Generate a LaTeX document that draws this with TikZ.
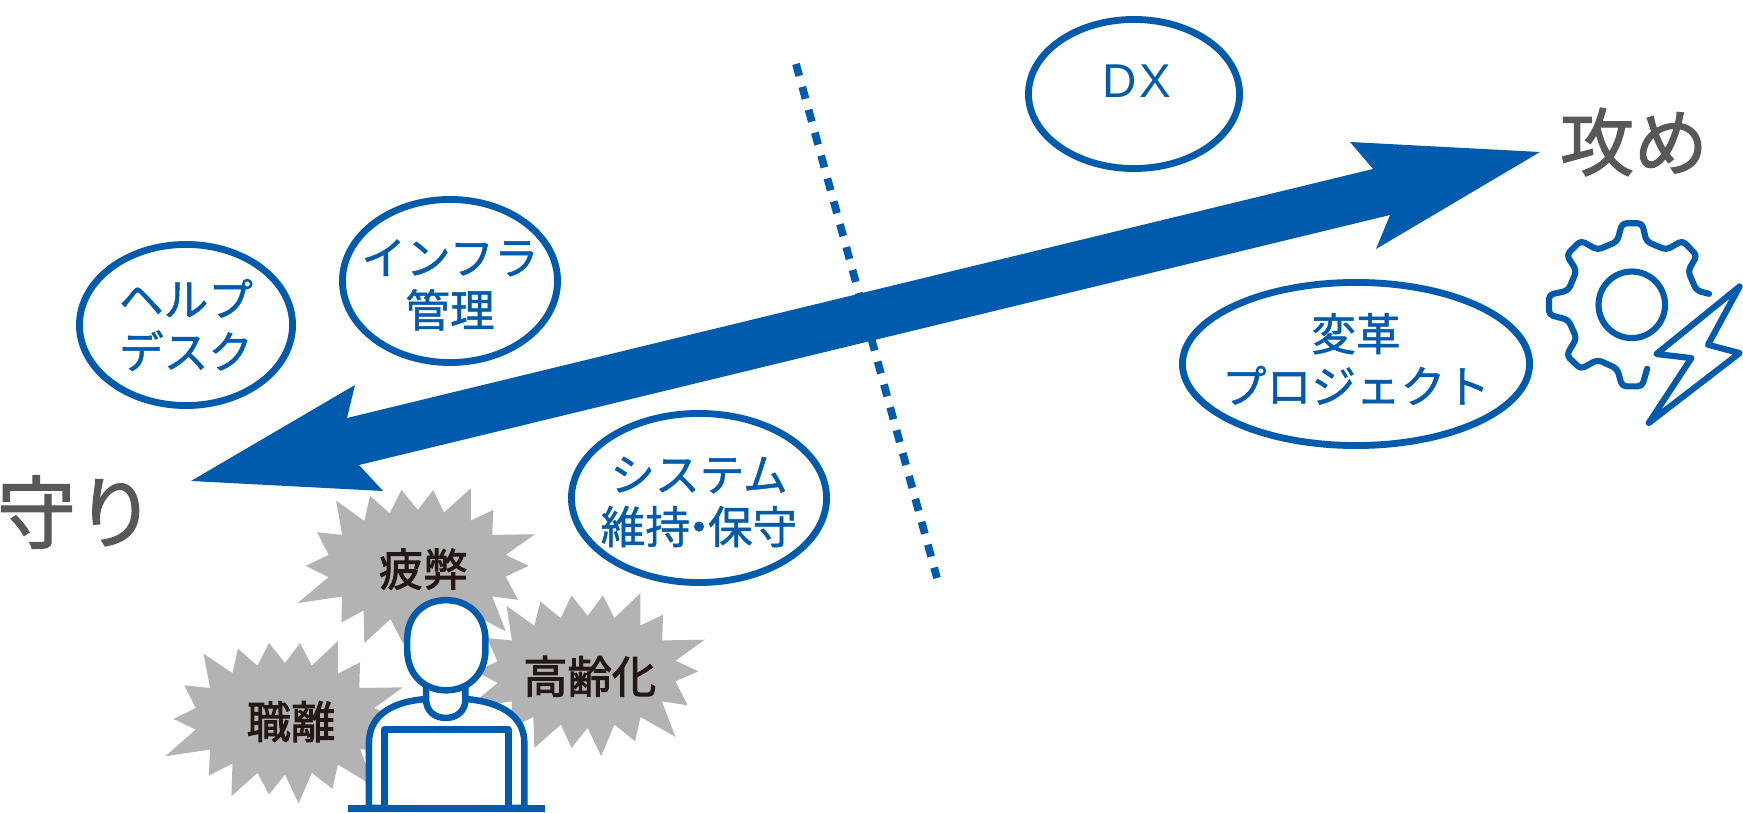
\documentclass[tikz,border=0pt]{standalone}
\usepackage{fontspec}
\setmainfont{Noto Sans CJK JP}
\newfontfamily\medfont[FakeBold=1.1]{Noto Sans CJK JP}
\newfontfamily\sidefont[FakeBold=1.6]{Noto Sans CJK JP}
\newfontfamily\burstfont[FakeBold=2.2]{Noto Sans CJK JP}
\newfontfamily\latinfont{Liberation Sans}
\usetikzlibrary{shapes.geometric}
\definecolor{kamoblue}{RGB}{0, 91, 172}
\definecolor{kamogray}{RGB}{89, 87, 87}
\definecolor{burstgray}{RGB}{179, 179, 179}
\definecolor{burstink}{RGB}{35, 24, 21}

\begin{document}
\begin{tikzpicture}[
    x=0.01cm, y=-0.01cm,
    oval/.style={ellipse, draw=kamoblue, line width=1.95pt, fill=white, inner sep=0pt},
    ovaltext/.style={inner sep=0pt, align=center, text=kamoblue, font=\medfont\fontsize{12.7}{14.9}\selectfont},
    side/.style={text=kamogray, inner sep=0pt, font=\sidefont\fontsize{21}{24}\selectfont},
    burst/.style={fill=burstgray},
    burstlabel/.style={text=burstink, inner sep=0pt, font=\burstfont\fontsize{12.6}{15}\selectfont},
    outline/.style={draw=kamoblue, line width=1.85pt, fill=white, line join=round},
    thinline/.style={draw=kamoblue, line width=1.75pt, line cap=round, line join=round}
]
    \useasboundingbox (0,0) rectangle (1743,813);

    % Boundary
    \coordinate (dotstart) at (796,64);
    \coordinate (dotend) at (937,578);
    \draw[kamoblue, line width=2.2pt, dash pattern=on 3.5pt off 3.25pt] (dotstart) -- (dotend);

    % Main arrow
    \fill[kamoblue] (1540,152) -- (1350,142) -- (1373,169) -- (347,418) -- (355,385) -- (191,481) -- (383,491) -- (359,465) -- (1390,215) -- (1376,249) -- cycle;

    % Tasks
    \node[oval, minimum width=211*0.2845pt, minimum height=149*0.2845pt] (dx) at (1134,94) {};
    \node[oval, minimum width=347*0.2845pt, minimum height=163*0.2845pt] (kaikaku) at (1356,364) {};
    \node[oval, minimum width=215*0.2845pt, minimum height=163*0.2845pt] (infra) at (450,281) {};
    \node[oval, minimum width=213*0.2845pt, minimum height=161*0.2845pt] (help) at (186,325) {};
    \node[oval, minimum width=255*0.2845pt, minimum height=169*0.2845pt] (hoshu) at (699,498) {};
    \node[inner sep=0pt, text=kamoblue, font=\latinfont\fontsize{13.5}{16}\selectfont] (dxtext) at (1137,81) {\addfontfeature{LetterSpace=6}DX};
    \node[ovaltext] (kaikakutext) at (1356,359) {変革\\プロジェクト};
    \node[ovaltext] (infratext) at (450,285) {インフラ\\管理};
    \node[ovaltext] (helptext) at (186,325) {ヘルプ\\デスク};
    \node[ovaltext] (hoshutext) at (699,502) {システム\\維持{\kern-0.3em・\kern-0.3em}保守};

    % Ends
    \node[side] (seme) at (1634,142) {攻め};
    \node[side, font=\sidefont\fontsize{22.5}{24}\selectfont] (mamori) at (76,512) {守り};

    % Bursts
    \begin{scope}[shift={(160,480)}, x=0.003571cm, y=-0.003333cm]
        \fill[burst] (493,62) -- (572,123) -- (588,48) -- (643,100) -- (676,30) -- (722,90) -- (765,30) -- (795,98) -- (870,25) -- (870,122) -- (933,90) -- (930,165) -- (1050,163) -- (968,225) -- (1032,258) -- (968,290) -- (1002,360) -- (930,350) -- (968,455) -- (870,400) -- (820,490) -- (740,420) -- (680,490) -- (645,418) -- (572,490) -- (570,392) -- (508,428) -- (510,350) -- (385,370) -- (472,292) -- (408,258) -- (472,225) -- (440,157) -- (510,165) -- cycle;
        \fill[burst] (970,378) -- (1048,438) -- (1065,365) -- (1122,415) -- (1152,347) -- (1197,408) -- (1240,347) -- (1272,415) -- (1345,340) -- (1345,437) -- (1408,405) -- (1406,482) -- (1525,480) -- (1443,543) -- (1507,575) -- (1443,605) -- (1477,677) -- (1405,665) -- (1443,772) -- (1345,712) -- (1330,785) -- (1272,735) -- (1235,830) -- (1197,745) -- (1152,805) -- (1122,735) -- (1048,805) -- (1045,712) -- (985,745) -- (985,665) -- (860,685) -- (945,610) -- (885,575) -- (945,545) -- (915,475) -- (985,482) -- cycle;
        \fill[burst] (122,522) -- (203,580) -- (218,507) -- (273,558) -- (305,490) -- (350,550) -- (392,490) -- (425,558) -- (498,484) -- (498,582) -- (560,548) -- (558,625) -- (680,623) -- (600,685) -- (665,718) -- (600,750) -- (635,820) -- (560,808) -- (598,920) -- (498,855) -- (483,928) -- (425,880) -- (388,972) -- (350,885) -- (305,945) -- (273,880) -- (200,950) -- (203,852) -- (137,888) -- (140,810) -- (15,830) -- (100,750) -- (38,718) -- (100,685) -- (68,617) -- (140,625) -- cycle;
        \node[burstlabel] (hihei) at (737,268) {疲弊};
        \node[burstlabel] (koreika) at (1203,590) {高齢化};
        \node[burstlabel] (shokuri) at (367,726) {職離};

        % Person
        \draw[outline] (585,985) -- (585,790) .. controls (585,700) and (660,665) .. (745,658) -- (855,658) .. controls (940,665) and (1020,700) .. (1020,790) -- (1020,985) -- cycle;
        \draw[outline] (745,620) -- (745,660) .. controls (745,695) and (770,715) .. (800,715) .. controls (830,715) and (855,695) .. (855,660) -- (855,620) -- cycle;
        \draw[outline] (692,480) .. controls (692,405) and (740,361) .. (801,361) .. controls (862,361) and (911,405) .. (911,480) -- (911,510) .. controls (911,585) and (862,632) .. (801,632) .. controls (740,632) and (692,585) .. (692,510) -- cycle;
        \draw[outline] (628,985) -- (628,750) -- (975,750) -- (975,985);
        \draw[kamoblue, line width=2pt] (525,987) -- (1078,987);
    \end{scope}

    % Gear and bolt
    \begin{scope}[shift={(1500,190)}, x=0.003333cm, y=-0.003333cm]
        \draw[thinline, rounded corners=1.2pt] (628,312) -- (590,302) -- (565,243) -- (592,197) -- (548,152) -- (500,180) -- (440,155) -- (427,100) -- (367,100) -- (352,155) -- (293,180) -- (243,152) -- (200,195) -- (230,243) -- (205,302) -- (147,315) -- (147,375) -- (205,390) -- (230,445) -- (200,497) -- (243,538) -- (293,510) -- (352,537) -- (367,590) -- (427,590) -- (442,537);
        \draw[thinline] (396,345) circle[radius=100];
        \draw[thinline] (720,290) -- (625,465) -- (720,490) -- (447,700) -- (575,505) -- (470,493) -- cycle;
    \end{scope}
\end{tikzpicture}
\end{document}
